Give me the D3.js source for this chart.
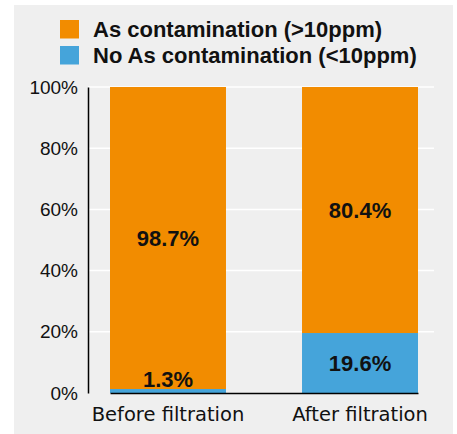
<!DOCTYPE html>
<html><head><meta charset="utf-8">
<script src="https://cdn.jsdelivr.net/npm/d3@7/dist/d3.min.js"></script>
<style>body{margin:0;background:#fff}svg{display:block}</style>
</head><body><svg id="c" width="457" height="434"></svg>
<script>
const categories = ["Before filtration", "After filtration"];
const seriesNames = ["No As contamination (<10ppm)", "As contamination (>10ppm)"];
const noAs = [1.3, 19.6];
const asCont = [98.7, 80.4];
const yTicks = [0, 20, 40, 60, 80, 100];
const colors = ["#45a4da", "#f28c00"];

const REG = "DejaVu Sans, sans-serif";
const ARIAL = "Liberation Sans, Arial, sans-serif";

const svg = d3.select("#c");
svg.append("rect").attr("x",14).attr("y",5).attr("width",439).attr("height",429).attr("fill","#efefef");

const m = {l:88, r:434, t:87, b:393};
const x = d3.scaleBand().domain(categories).range([m.l+22, m.r-16]).paddingInner(0.396).paddingOuter(0);
const y = d3.scaleLinear().domain([0,100]).range([m.b, m.t]);

// gridlines
svg.append("g").selectAll("line").data(yTicks.filter(d=>d>0)).join("line")
  .attr("x1", m.l).attr("x2", m.r).attr("y1", d=>y(d)).attr("y2", d=>y(d))
  .attr("stroke","#fff").attr("stroke-width",1.5);

const data = categories.map((c,i)=>({c, v:[noAs[i], asCont[i]]}));
const stack = d3.stack().keys([0,1]).value((d,k)=>d.v[k])(data);

stack.forEach((layer,k)=>{
  svg.append("g").selectAll("rect").data(layer).join("rect")
    .attr("x", d=>x(d.data.c)).attr("width", x.bandwidth())
    .attr("y", d=>y(d[1])).attr("height", d=>y(d[0])-y(d[1]))
    .attr("fill", colors[k]);
});

// value labels
const fmt = v => v.toFixed(1) + "%";
stack.forEach((layer,k)=>{
  svg.append("g").selectAll("text").data(layer).join("text")
    .attr("x", d=>x(d.data.c)+x.bandwidth()/2)
    .attr("y", d=>{
      const h = y(d[0])-y(d[1]);
      if (h < 25) return y(d[1]) - 2;
      return (y(d[0])+y(d[1]))/2 + 8;
    })
    .attr("text-anchor","middle").attr("font-family",ARIAL).attr("font-weight","bold").attr("font-size",22).attr("fill","#111")
    .text(d=>fmt(d[1]-d[0]));
});

// y axis
const yAxis = d3.axisLeft(y).tickValues(yTicks).tickSize(0).tickPadding(10).tickFormat(d=>d+"%");
const ga = svg.append("g").attr("transform",`translate(${m.l},0)`).call(yAxis);
ga.select(".domain").attr("stroke","#000").attr("stroke-width",1.5);
ga.selectAll("text").attr("font-size",19).attr("fill","#111").attr("font-family",ARIAL);

// x axis
const xAxis = d3.axisBottom(x).tickSize(0).tickPadding(14);
const gx = svg.append("g").attr("transform",`translate(0,${m.b})`).call(xAxis);
gx.select(".domain").attr("stroke","#000").attr("stroke-width",1.5);
gx.selectAll("text").attr("font-size",19.5).attr("fill","#111").attr("font-family",REG);

// legend
const leg = svg.append("g");
const legItems = [{n:seriesNames[1], c:colors[1]}, {n:seriesNames[0], c:colors[0]}];
legItems.forEach((it,i)=>{
  leg.append("rect").attr("x",60).attr("y",20+i*26).attr("width",19).attr("height",18.5).attr("fill",it.c);
  leg.append("text").attr("x",93).attr("y",37+i*26).attr("font-family",ARIAL).attr("font-size",22).attr("font-weight","bold").attr("fill","#111").text(it.n);
});
</script></body></html>
